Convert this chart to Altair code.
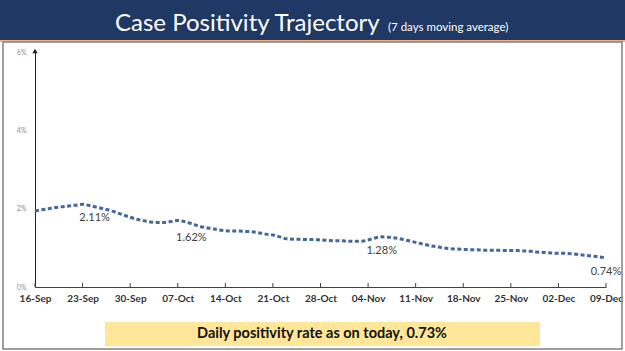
import altair as alt
import pandas as pd

# ---- data ----
tick_labels = ["16-Sep", "23-Sep", "30-Sep", "07-Oct", "14-Oct", "21-Oct", "28-Oct",
               "04-Nov", "11-Nov", "18-Nov", "25-Nov", "02-Dec", "09-Dec"]
tick_days = [0, 7, 14, 21, 28, 35, 42, 49, 56, 63, 70, 77, 84]

# 7-day moving average positivity (%) daily, 16-Sep .. 09-Dec
positivity = [
    1.94, 1.97, 2.00, 2.03, 2.05, 2.07, 2.09,
    2.11, 2.08, 2.04, 2.00, 1.96, 1.90, 1.84,
    1.78, 1.73, 1.69, 1.66, 1.65, 1.65, 1.67,
    1.70, 1.67, 1.62, 1.56, 1.52, 1.49, 1.46,
    1.44, 1.43, 1.43, 1.42, 1.41, 1.38, 1.35,
    1.33, 1.28, 1.23, 1.22, 1.22, 1.21, 1.21,
    1.20, 1.19, 1.18, 1.18, 1.17, 1.17, 1.17,
    1.20, 1.25, 1.28, 1.27, 1.25, 1.22, 1.18,
    1.14, 1.10, 1.06, 1.03, 1.00, 0.98, 0.97,
    0.96, 0.95, 0.95, 0.94, 0.94, 0.94, 0.93,
    0.93, 0.93, 0.92, 0.91, 0.89, 0.88, 0.87,
    0.86, 0.86, 0.85, 0.83, 0.81, 0.79, 0.77,
    0.74,
]
days = list(range(len(positivity)))

label_days = [7, 23, 51, 84]
label_values = [2.11, 1.62, 1.28, 0.74]
label_texts = ["2.11%", "1.62%", "1.28%", "0.74%"]

y_ticks = [0, 2, 4, 6]

title_main = "Case Positivity Trajectory"
title_sub = "(7 days moving average)"
footer_text = "Daily positivity rate as on today, 0.73%"

# ---- layout ----
W, H = 571, 235
PAD = {"left": 35, "top": 52, "right": 19, "bottom": 64}
FONT = "Lato"

line_df = pd.DataFrame({"day": days, "value": positivity})
lab_df = pd.DataFrame({"day": label_days, "value": label_values, "text": label_texts})
tick_df = pd.DataFrame({"day": tick_days})
one = pd.DataFrame({"k": [0]})

label_expr = "[" + ",".join(f"'{t}'" for t in tick_labels) + "][round(datum.value/7)]"

x_scale = alt.Scale(domain=[0, 84], nice=False)
y_scale = alt.Scale(domain=[0, 6], nice=False)

x_enc = alt.X("day:Q", scale=x_scale,
              axis=alt.Axis(values=tick_days, labelExpr=label_expr, title=None,
                            grid=False, ticks=False, domainColor="#404040",
                            labelColor="#333333", labelFont=FONT, labelFontSize=10,
                            labelFontWeight="bold", labelPadding=6, labelFlush=False))
y_enc = alt.Y("value:Q", scale=y_scale,
              axis=alt.Axis(values=y_ticks, labelExpr="datum.value + '%'", title=None,
                            grid=False, ticks=False, domainColor="#202020",
                            labelColor="#8c8c8c", labelFont=FONT, labelFontSize=7,
                            labelPadding=9))

banner = alt.Chart(one).mark_rect(color="#1f3864").encode(
    x=alt.value(-35), x2=alt.value(590), y=alt.value(-52), y2=alt.value(-12))
orange = alt.Chart(one).mark_rect(color="#f4b183").encode(
    x=alt.value(-35), x2=alt.value(590), y=alt.value(-12), y2=alt.value(-10))
border = alt.Chart(one).mark_rect(fill=None, stroke="#808080", strokeWidth=1.5).encode(
    x=alt.value(-32), x2=alt.value(587), y=alt.value(-10), y2=alt.value(297))
yellow = alt.Chart(one).mark_rect(color="#ffe699").encode(
    x=alt.value(70), x2=alt.value(505), y=alt.value(270), y2=alt.value(294))

t_main = alt.Chart(one).mark_text(align="left", baseline="alphabetic", color="white",
                                  font=FONT, fontSize=24).encode(
    x=alt.value(80), y=alt.value(-21), text=alt.value(title_main))
t_sub = alt.Chart(one).mark_text(align="left", baseline="alphabetic", color="white",
                                 font=FONT, fontSize=11.5).encode(
    x=alt.value(353), y=alt.value(-21), text=alt.value(title_sub))
t_foot = alt.Chart(one).mark_text(align="center", baseline="middle", color="#111111",
                                  font=FONT, fontSize=14.5, fontWeight="bold").encode(
    x=alt.value(287), y=alt.value(282), text=alt.value(footer_text))

arrow = alt.Chart(one).mark_point(shape="triangle-up", filled=True, color="#202020",
                                  size=28, opacity=1).encode(
    x=alt.value(0), y=alt.value(-1))

ticks = alt.Chart(tick_df).mark_rule(color="#404040").encode(
    x=alt.X("day:Q", scale=x_scale), y=alt.value(H - 4), y2=alt.value(H))

line = alt.Chart(line_df).mark_line(color="#44679c", strokeWidth=3, strokeDash=[4, 2.5],
                                    interpolate="monotone").encode(x=x_enc, y=y_enc)

labels_first = alt.Chart(lab_df).transform_filter("datum.day == 7").mark_text(
    font=FONT, fontSize=11, color="#404040", dx=12, dy=14).encode(
    x=alt.X("day:Q", scale=x_scale), y=alt.Y("value:Q", scale=y_scale), text="text:N")
labels_rest = alt.Chart(lab_df).transform_filter("datum.day != 7").mark_text(
    font=FONT, fontSize=11, color="#404040", dy=14).encode(
    x=alt.X("day:Q", scale=x_scale), y=alt.Y("value:Q", scale=y_scale), text="text:N")

chart = alt.layer(
    banner, orange, border, yellow, t_main, t_sub, t_foot,
    line, ticks, arrow, labels_first, labels_rest
).properties(
    width=W, height=H,
    padding=PAD,
    autosize=alt.AutoSizeParams(type="none"),
    background="white",
).configure_view(stroke=None)

chart.save("out.html", embed_options={"renderer": "svg", "actions": False})
